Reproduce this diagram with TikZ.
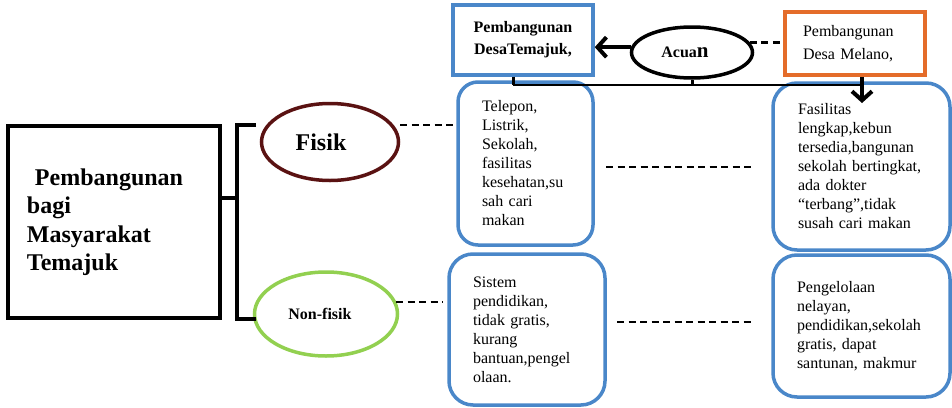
\documentclass[tikz,border=0pt]{standalone}
\usepackage{fontspec}
\setmainfont{Liberation Serif}
\usetikzlibrary{arrows.meta,shapes.geometric,calc}
\definecolor{bblue}{HTML}{4A87C9}
\definecolor{oorange}{HTML}{E46C2A}
\definecolor{maroon}{HTML}{5A1212}
\definecolor{lgreen}{HTML}{92D050}
\begin{document}
\begin{tikzpicture}[x=1pt,y=-1pt,
  bluebox/.style={draw=bblue, line width=3.5pt, rounded corners=20pt, align=left,
    font=\fontsize{16}{19}\selectfont, inner ysep=0pt},
  dashline/.style={line width=2.5pt, dash pattern=on 7pt off 4.5pt},
  arr/.style={line width=4pt, -{Straight Barb[length=9pt,width=20pt]}},
  thick4/.style={line width=4pt}]
\useasboundingbox (0,0) rectangle (952,407);

% main box
\node[draw, line width=4pt, text width=174pt, inner xsep=19pt, inner ysep=0pt,
  minimum height=192pt, align=left,
  font=\bfseries\fontsize{24}{28.5}\selectfont] (main) at (114,222)
  {\hspace*{8pt}Pembangunan\\bagi\\Masyarakat\\Temajuk};

% ellipses
\node[ellipse, draw=maroon, line width=3.5pt, minimum width=137pt, minimum height=77pt,
  inner sep=0pt, font=\bfseries\fontsize{24}{24}\selectfont] (fisik) at (330,142)
  {\hspace*{-18pt}Fisik};
\node[ellipse, draw=lgreen, line width=3.5pt, minimum width=143pt, minimum height=84pt,
  inner sep=0pt, font=\bfseries\fontsize{16}{16}\selectfont] (nonfisik) at (326,314)
  {\hspace*{-12pt}Non-fisik};

% top row
\node[draw=bblue, line width=3.5pt, minimum width=140pt, minimum height=70pt,
  inner sep=0pt, align=center, font=\bfseries\fontsize{16}{22}\selectfont] (temajuk) at (523,40)
  {Pembangunan\\DesaTemajuk,};
\node[ellipse, draw, line width=3.5pt, minimum width=121pt, minimum height=51pt,
  inner sep=0pt, font=\bfseries\fontsize{16}{16}\selectfont] (acuan) at (692,52.5)
  {\hspace*{-14pt}Acua{\fontsize{21}{21}\selectfont n}};
\node[draw=oorange, line width=3.5pt, text width=104pt, inner xsep=18pt, inner ysep=0pt,
  minimum height=63pt, align=left, font=\fontsize{16}{23}\selectfont] (melano) at (855,43.5)
  {Pembangunan\\Desa Melano,};

% content boxes
\node[bluebox, text width=87pt, inner xsep=24pt, minimum height=163pt] (tel) at (525.5,163.5)
  {Telepon,\\Listrik,\\Sekolah,\\fasilitas\\kesehatan,su\\sah cari\\makan};
\node[bluebox, text width=127pt, inner xsep=25pt, minimum height=167pt, rounded corners=24pt] (fas) at (861.5,166.5)
  {Fasilitas\\lengkap,kebun\\tersedia,bangunan\\sekolah bertingkat,\\ada dokter\\``terbang'',tidak\\susah cari makan};
\node[bluebox, text width=108pt, inner xsep=24pt, minimum height=151pt, rounded corners=24pt] (sis) at (527,329.5)
  {Sistem\\pendidikan,\\tidak gratis,\\kurang\\bantuan,pengel\\olaan.};
\node[bluebox, text width=129pt, inner xsep=24pt, minimum height=142pt, rounded corners=24pt] (pen) at (861.5,326)
  {Pengelolaan\\nelayan,\\pendidikan,sekolah\\gratis, dapat\\santunan, makmur};

% bracket
\coordinate (bm) at (237,198);
\coordinate (bt) at (237,125);
\coordinate (bb) at (237,319);
\draw[thick4] (bm -| main.east) -- (bm);
\draw[thick4] ([xshift=19pt]bt) -- (bt) -- (bb) -- ([xshift=19pt]bb);

% dashed links
\coordinate (fd) at (400,125);
\draw[dashline] (fd) -- ([xshift=-3pt]fd -| tel.west);
\coordinate (nd) at (396,302);
\draw[dashline] (nd) -- ([xshift=-4pt]nd -| sis.west);
\coordinate (m1a) at (606,167);
\coordinate (m1b) at (753,167);
\draw[dashline] (m1a) -- (m1b);
\coordinate (m2a) at (617,322);
\coordinate (m2b) at (753,322);
\draw[dashline] (m2a) -- (m2b);
\draw[dashline] (acuan.10) -- (acuan.10 -| melano.west);

% arrows and junction line
\draw[arr] (acuan.175) -- (acuan.175 -| temajuk.east);
\coordinate (jl) at (513,85);
\coordinate (jr) at (862,85);
\coordinate (tip) at (862,103);
\draw[line width=1.5pt] (jl) -- (jr);
\draw[line width=3pt] (acuan.south) -- (acuan.south |- jl);
\draw[line width=3pt] (jl |- temajuk.south) -- (jl);
\draw[arr] (jr |- melano.south) -- (tip);
\end{tikzpicture}
\end{document}
